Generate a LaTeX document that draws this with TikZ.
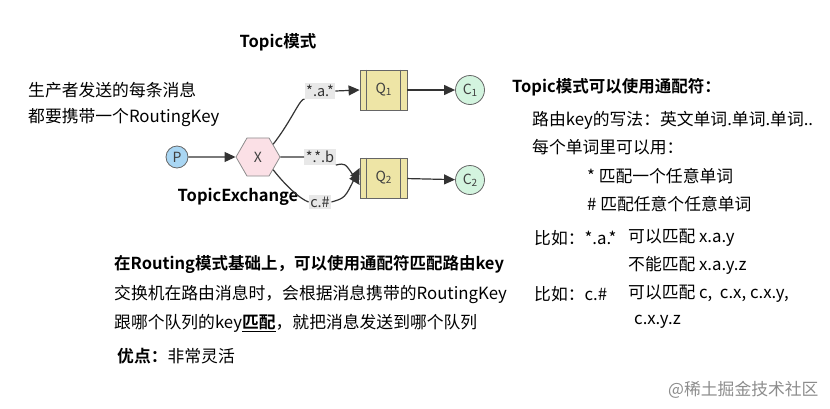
\documentclass[tikz,border=0pt]{standalone}
\usepackage{fontspec}
\setmainfont{Noto Sans CJK SC}[BoldFont={Noto Sans CJK SC Bold}]
\usetikzlibrary{shapes.geometric,arrows.meta}
\definecolor{pfill}{HTML}{A9D6F3}
\definecolor{xfill}{HTML}{FBE0E6}
\definecolor{qfill}{HTML}{EEE5A6}
\definecolor{cfill}{HTML}{D3F4DF}
\definecolor{lnk}{HTML}{333333}
\definecolor{lblbg}{HTML}{E8E8E8}
\tikzset{
  txt/.style={anchor=west,inner sep=0pt,font=\fontsize{16.8}{20}\selectfont},
  btxt/.style={txt,font=\fontsize{16.5}{20}\selectfont\bfseries},
  circ/.style={circle,draw=black!60,line width=0.8pt,minimum size=#1,inner sep=0pt,font=\fontsize{14}{16}\selectfont,text=black!75},
  hexa/.style={regular polygon,regular polygon sides=6,draw=black!45,line width=0.8pt,fill=xfill,minimum size=44pt,inner sep=0pt,font=\fontsize{14}{16}\selectfont,text=black!75},
  queue/.style={rectangle,draw=black!60,line width=0.8pt,fill=qfill,minimum width=47pt,minimum height=40pt,inner sep=0pt,font=\fontsize{14}{16}\selectfont,text=black!75},
  keylbl/.style={fill=lblbg,inner xsep=1.5pt,inner ysep=2pt,font=\fontsize{14.5}{16}\selectfont,text=black!80},
  conn/.style={draw=lnk,line width=1.2pt},
  arr/.style={conn,-{Triangle[length=11pt,width=10pt]}},
}
\newcommand{\sub}[1]{\raisebox{-0.25ex}{\fontsize{10}{11}\selectfont #1}}
\begin{document}
\begin{tikzpicture}[x=1pt,y=-1pt]
\useasboundingbox (0,0) rectangle (830,408);
% titles and left text
\node[btxt,anchor=center] (title) at (278,42) {Topic模式};
\node[txt] (l1) at (28,90) {生产者发送的每条消息};
\node[txt] (l2) at (28,118) {都要携带一个RoutingKey};
% diagram
\node[circ=22pt,fill=pfill] (P) at (177,157) {P};
\node[hexa] (X) at (258,157) {X};
\node[queue] (Q1) at (383.5,90) {Q\sub{1}};
\node[queue] (Q2) at (383.5,178) {Q\sub{2}};
\foreach \q in {Q1,Q2}{
  \draw[black!60,line width=0.8pt] ([xshift=7pt]\q.north west) -- ([xshift=7pt]\q.south west);
  \draw[black!60,line width=0.8pt] ([xshift=-7pt]\q.north east) -- ([xshift=-7pt]\q.south east);
}
\node[circ=29pt,fill=cfill] (C1) at (470,90) {C\sub{1}};
\node[circ=29pt,fill=cfill] (C2) at (470,180) {C\sub{2}};
\node[keylbl] (ka) at (320,91) {*.a.*};
\node[keylbl] (kb) at (320,157) {*.*.b};
\node[keylbl] (kc) at (320,202) {c.\#};
\node[btxt,anchor=center] (tex) at (238,197) {TopicExchange};
\draw[arr] (P) -- (X);
\draw[conn] (X.40) .. controls (292,120) and (300,98) .. (ka.south west);
\draw[arr] (ka.east) -- (Q1.west);
\draw[conn] (X.east) -- (kb.west);
\draw[arr] (kb.south east) .. controls (345,163) .. ([yshift=-7pt]Q2.west);
\draw[conn] (X.-40) .. controls (285,185) and (300,199) .. (kc.west);
\draw[arr] (kc.east) .. controls (345,198) .. ([yshift=10pt]Q2.west);
\draw[arr] (Q1) -- (C1);
\draw[arr] (Q2) -- (C2);
% right text
\node[btxt] (r0) at (512,87) {Topic模式可以使用通配符：};
\node[txt] (r1) at (532,120) {路由key的写法：英文单词.单词.单词..};
\node[txt] (r2) at (532,147) {每个单词里可以用：};
\node[txt] (r3) at (587,176) {* 匹配一个任意单词};
\node[txt] (r4) at (587,204) {\# 匹配任意个任意单词};
\node[txt] (e1) at (534,238) {比如：*.a.*};
\node[txt] (e1b) at (628,238) {可以匹配 x.a.y};
\node[txt] (e2) at (628,265) {不能匹配 x.a.y.z};
\node[txt] (e3) at (534,294) {比如：c.\#};
\node[txt] (e3b) at (628,294) {可以匹配 c,\ \ c.x, c.x.y,};
\node[txt] (e4) at (634,322) {c.x.y.z};
% bottom text
\node[btxt] (b0) at (114,264) {在Routing模式基础上，可以使用通配符匹配路由key};
\node[txt] (b1) at (114,294) {交换机在路由消息时，会根据消息携带的RoutingKey};
\node[txt] (b2) at (114,323) {跟哪个队列的key\underline{\textbf{匹配}}，就把消息发送到哪个队列};
\node[txt] (b3) at (117,356) {\textbf{优点：}非常灵活};
\node[txt,text=black!45] (wm) at (668,390) {@稀土掘金技术社区};
\end{tikzpicture}
\end{document}
